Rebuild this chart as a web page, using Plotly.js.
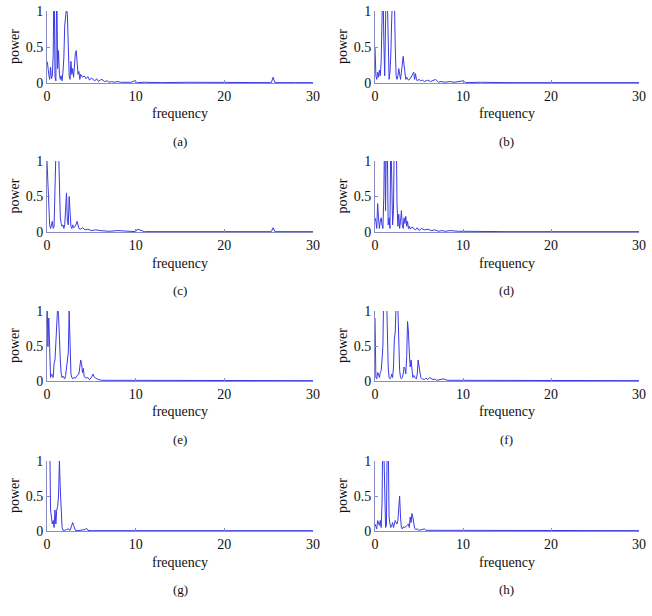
<!DOCTYPE html>
<html><head><meta charset="utf-8">
<script src="https://cdn.plot.ly/plotly-3.0.1.min.js"></script>
<style>html,body{margin:0;padding:0;background:#fff}#chart{width:652px;height:616px}</style>
</head><body><div id="chart"></div>
<script>
const panelLabels = ["(a)","(b)","(c)","(d)","(e)","(f)","(g)","(h)"];
const xTickVals = [0,10,20,30];
const yTickVals = [0,0.5,1];
const yTickText = ["0","0.5","1"];

const freqA = [0,0.05,0.2,0.3,0.4,0.5,0.6,0.7,0.8,0.9,1.0,1.1,1.2,1.3,1.4,1.5,1.6,1.7,1.8,1.9,2.0,2.1,2.2,2.3,2.4,2.5,2.6,2.7,2.8,2.9,3.0,3.1,3.2,3.3,3.4,3.5,3.6,3.7,3.8,4.0,4.2,4.4,4.6,4.8,5.0,5.2,5.4,5.6,5.8,6.0,6.2,6.5,6.8,7.0,7.3,7.6,8.0,8.3,8.6,9.0,9.5,9.85,10.2,11,13,16,20,23,25.3,25.5,25.7,28,30];
const powA = [0.3,0.28,0.12,0.05,0.22,0.06,0.1,0.4,1.6,0.08,0.03,1.4,0.2,0.45,0.12,0.05,0.1,0.03,0.15,0.35,0.8,1.0,1.05,0.95,0.6,0.1,0.05,0.3,0.12,0.2,0.08,0.3,0.42,0.45,0.2,0.12,0.16,0.05,0.12,0.08,0.1,0.06,0.09,0.04,0.07,0.05,0.03,0.06,0.02,0.04,0.05,0.02,0.03,0.01,0.02,0.01,0.02,0.01,0.01,0.02,0.01,0.03,0.005,0.01,0.005,0.01,0.005,0.01,0.005,0.08,0.005,0.005,0.005];

const freqB = [0,0.1,0.2,0.3,0.4,0.5,0.6,0.7,0.8,0.9,1.0,1.1,1.2,1.3,1.4,1.5,1.6,1.7,1.8,1.9,2.0,2.1,2.2,2.3,2.4,2.5,2.6,2.7,2.8,2.9,3.0,3.1,3.2,3.3,3.4,3.5,3.6,3.8,4.0,4.2,4.4,4.5,4.6,4.7,4.8,5.0,5.2,5.4,5.6,5.8,6.0,6.3,6.6,6.9,7.2,7.5,8,8.5,9,9.5,10,10.3,12,15,20,25,30];
const powB = [0.5,0.1,0.05,0.15,0.08,0.18,0.1,0.3,0.9,1.5,0.6,0.1,1.3,1.6,1.2,0.2,0.05,0.15,0.4,0.9,1.3,1.5,1.2,0.5,0.1,0.05,0.1,0.2,0.1,0.05,0.15,0.3,0.37,0.25,0.1,0.05,0.08,0.04,0.06,0.1,0.15,0.05,0.13,0.06,0.03,0.05,0.03,0.04,0.02,0.03,0.04,0.02,0.03,0.05,0.01,0.02,0.01,0.02,0.01,0.02,0.03,0.005,0.01,0.005,0.005,0.005,0.005];

const freqC = [0,0.1,0.2,0.3,0.4,0.5,0.6,0.7,0.8,0.9,1.0,1.1,1.2,1.3,1.4,1.5,1.6,1.7,1.8,1.9,2.0,2.1,2.2,2.3,2.4,2.5,2.6,2.7,2.8,2.9,3.0,3.2,3.4,3.6,3.8,4.0,4.3,4.6,5.0,5.5,6.0,7,8,9,10,10.2,11,15,20,25.3,25.5,25.7,30];
const powC = [1.0,0.6,0.35,0.1,0.05,0.12,0.15,0.05,0.08,0.6,1.5,1.6,1.4,1.2,0.5,0.2,0.12,0.08,0.1,0.05,0.1,0.35,0.55,0.15,0.1,0.5,0.25,0.08,0.05,0.1,0.06,0.08,0.15,0.05,0.04,0.06,0.03,0.04,0.02,0.03,0.02,0.01,0.02,0.01,0.005,0.04,0.005,0.005,0.005,0.005,0.06,0.005,0.005];

const freqD = [0,0.1,0.2,0.3,0.4,0.5,0.6,0.7,0.8,0.9,1.0,1.1,1.2,1.3,1.4,1.5,1.6,1.7,1.8,1.9,2.0,2.1,2.2,2.3,2.4,2.5,2.6,2.7,2.8,2.9,3.0,3.1,3.2,3.3,3.4,3.5,3.6,3.7,3.8,3.9,4.0,4.2,4.4,4.6,4.8,5.0,5.3,5.6,6.0,6.4,6.8,7.2,7.6,8,8.5,9,9.5,10,12,15,20,25,30];
const powD = [0.2,0.15,0.05,0.4,0.2,0.05,0.15,0.2,0.1,0.05,0.5,1.5,0.3,1.5,1.2,0.1,0.2,0.05,1.4,0.8,0.1,0.3,1.5,1.3,1.6,0.4,0.08,0.25,0.05,0.15,0.3,0.1,0.05,0.2,0.12,0.22,0.08,0.15,0.05,0.08,0.04,0.07,0.05,0.03,0.06,0.02,0.05,0.03,0.04,0.02,0.03,0.01,0.02,0.01,0.02,0.01,0.01,0.01,0.005,0.005,0.005,0.005,0.005];

const freqE = [0,0.1,0.2,0.3,0.4,0.5,0.6,0.7,0.8,0.9,1.0,1.1,1.2,1.3,1.4,1.5,1.6,1.7,1.8,1.9,2.0,2.1,2.2,2.3,2.4,2.5,2.6,2.7,2.8,2.9,3.0,3.2,3.4,3.6,3.7,3.8,3.9,4.0,4.1,4.2,4.4,4.6,4.8,5.0,5.2,5.3,5.5,5.8,6.2,7,8,9,9.3,10,12,15,20,25,30];
const powE = [1.3,0.5,0.9,0.2,0.05,0.1,0.08,0.05,0.25,0.3,0.55,1.0,1.05,0.95,0.5,0.3,0.1,0.05,0.07,0.05,0.03,0.08,0.2,0.25,0.4,1.0,0.45,0.1,0.05,0.03,0.05,0.04,0.08,0.1,0.2,0.3,0.25,0.12,0.18,0.06,0.04,0.05,0.02,0.05,0.1,0.06,0.04,0.02,0.01,0.01,0.005,0.005,0.015,0.005,0.005,0.005,0.005,0.005,0.005];

const freqF = [0,0.1,0.2,0.3,0.4,0.5,0.6,0.7,0.8,0.9,1.0,1.1,1.2,1.3,1.4,1.5,1.6,1.7,1.8,1.9,2.0,2.1,2.2,2.3,2.4,2.5,2.6,2.7,2.8,2.9,3.0,3.1,3.2,3.3,3.4,3.5,3.6,3.7,3.8,3.9,4.0,4.1,4.2,4.3,4.4,4.5,4.6,4.7,4.8,4.9,5.0,5.1,5.2,5.4,5.6,5.8,6.0,6.2,6.4,6.6,6.8,7.0,7.4,7.8,8.2,9,10,12,15,20,25,30];
const powF = [0.9,0.05,0.03,0.12,0.1,0.05,0.12,0.15,0.3,0.5,1.4,1.6,1.5,1.3,0.4,0.2,0.05,0.03,0.05,0.1,0.05,0.2,0.6,0.7,1.1,1.0,1.05,0.4,0.15,0.05,0.03,0.05,0.1,0.2,0.18,0.1,0.35,0.85,0.7,0.4,0.2,0.3,0.1,0.05,0.08,0.05,0.04,0.03,0.1,0.3,0.2,0.08,0.05,0.03,0.02,0.04,0.02,0.05,0.03,0.02,0.03,0.01,0.02,0.03,0.01,0.01,0.01,0.005,0.005,0.005,0.005,0.005];

const freqG = [0,0.1,0.2,0.3,0.35,0.4,0.5,0.6,0.7,0.8,0.9,1.0,1.1,1.2,1.3,1.4,1.5,1.6,1.7,1.8,1.9,2.0,2.2,2.4,2.6,2.7,2.8,2.9,3.0,3.1,3.2,3.5,4.0,4.3,4.45,4.6,5,6,8,10,15,20,25,30];
const powG = [1.5,1.3,1.2,1.4,0.45,0.3,0.2,0.1,0.15,0.05,0.3,0.1,0.3,0.35,0.5,1.0,0.6,0.25,0.05,0.01,0.005,0.01,0.02,0.03,0.01,0.05,0.1,0.12,0.08,0.03,0.01,0.005,0.01,0.02,0.04,0.01,0.005,0.005,0.005,0.01,0.005,0.005,0.005,0.005];

const freqH = [0,0.1,0.2,0.3,0.4,0.5,0.6,0.7,0.8,0.9,1.0,1.1,1.2,1.3,1.4,1.5,1.6,1.7,1.8,1.9,2.0,2.1,2.2,2.3,2.4,2.5,2.6,2.7,2.8,2.9,3.0,3.1,3.2,3.4,3.6,3.8,3.9,4.0,4.1,4.2,4.3,4.4,4.5,4.6,4.8,5.0,5.4,5.6,5.8,6.5,7.1,7.5,8,10,15,20,25,30];
const powH = [0.1,0.05,0.03,0.15,0.1,0.08,0.15,0.05,0.4,1.6,1.2,0.3,0.05,0.08,1.5,1.3,0.2,0.1,0.05,0.08,0.12,0.05,0.1,0.15,0.12,0.1,0.15,0.3,0.5,0.2,0.05,0.03,0.06,0.05,0.08,0.1,0.05,0.2,0.12,0.25,0.2,0.1,0.04,0.02,0.03,0.01,0.02,0.03,0.01,0.01,0.015,0.005,0.01,0.005,0.005,0.005,0.005,0.005];

const freqs = [freqA,freqB,freqC,freqD,freqE,freqF,freqG,freqH];
const pows = [powA,powB,powC,powD,powE,powF,powG,powH];

const W = 652, H = 616;
const colPx = [[47,313],[375,639]];
const rowPx = [[11,83],[161,232],[311,381],[461,531]];
const serif = "'Liberation Serif', serif";
const axisColor = "#8c8cc4";

const traces = [], annotations = [], layout = {
  width: W, height: H, margin: {l:0,r:0,t:0,b:0},
  paper_bgcolor: "#fff", plot_bgcolor: "#fff", showlegend: false,
  font: {family: serif, size: 13, color: "#111"}
};

for (let i = 0; i < 8; i++) {
  const col = i % 2, row = Math.floor(i / 2);
  const n = i + 1;
  const xa = "x" + (n === 1 ? "" : n), ya = "y" + (n === 1 ? "" : n);
  traces.push({
    x: freqs[i], y: pows[i], xaxis: xa, yaxis: ya, type: "scatter", mode: "lines",
    line: {color: "#3a3ae6", width: 1}, hoverinfo: "skip"
  });
  const x0 = colPx[col][0] / W, x1 = colPx[col][1] / W;
  const y0 = 1 - rowPx[row][1] / H, y1 = 1 - rowPx[row][0] / H;
  const key = n === 1 ? "" : n;
  layout["xaxis" + key] = {
    domain: [x0, x1], anchor: ya, range: [0, 30], tickvals: xTickVals,
    ticks: "inside", ticklen: 3, tickcolor: axisColor, showline: true, linecolor: axisColor,
    linewidth: 1, showgrid: false, zeroline: false, fixedrange: true,
    tickfont: {family: serif, size: 14, color: "#111"}
  };
  layout["yaxis" + key] = {
    domain: [y0, y1], anchor: xa, range: [0, 1], tickvals: yTickVals, ticktext: yTickText,
    ticks: "inside", ticklen: 3, tickcolor: axisColor, showline: true, linecolor: axisColor,
    linewidth: 1, showgrid: false, zeroline: false, fixedrange: true,
    tickfont: {family: serif, size: 14, color: "#111"}
  };
  const cx = (colPx[col][0] + colPx[col][1]) / 2 / W;
  annotations.push({
    text: "frequency", xref: "paper", yref: "paper", x: cx, y: 1 - (rowPx[row][1] + 31) / H,
    showarrow: false, xanchor: "center", yanchor: "middle", font: {family: serif, size: 14, color: "#111"}
  });
  annotations.push({
    text: panelLabels[i], xref: "paper", yref: "paper", x: cx, y: 1 - (rowPx[row][1] + 58) / H,
    showarrow: false, xanchor: "center", yanchor: "middle", font: {family: serif, size: 13, color: "#111"}
  });
  annotations.push({
    text: "power", xref: "paper", yref: "paper", x: (colPx[col][0] - 33) / W,
    y: 1 - ((rowPx[row][0] + rowPx[row][1]) / 2) / H, textangle: -90,
    showarrow: false, xanchor: "center", yanchor: "middle", font: {family: serif, size: 14, color: "#111"}
  });
}
layout.annotations = annotations;
Plotly.newPlot("chart", traces, layout, {staticPlot: true, displayModeBar: false});
</script></body></html>
